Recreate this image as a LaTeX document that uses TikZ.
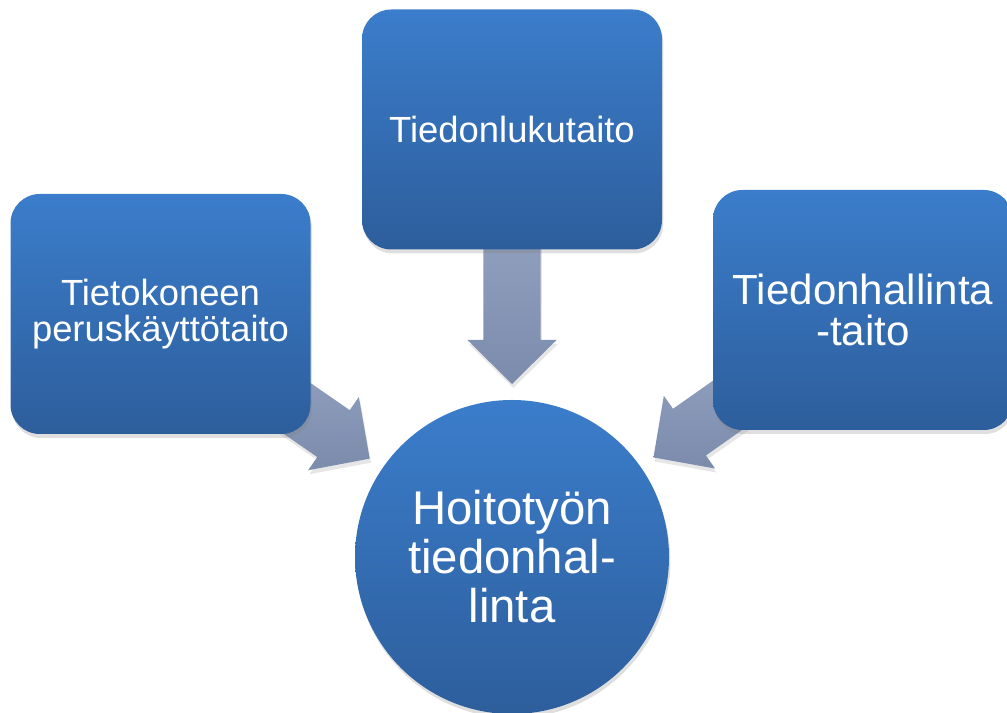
\documentclass[tikz,border=0pt]{standalone}
\usepackage{fontspec}
\setmainfont{Liberation Sans}
\usetikzlibrary{calc,shadows,backgrounds}
\definecolor{boxtop}{HTML}{3B7DCB}
\definecolor{boxbot}{HTML}{2D5E9C}
\definecolor{arrtop}{HTML}{A0AECB}
\definecolor{arrbot}{HTML}{7B8BAC}
\tikzset{box/.style={rounded corners=22pt,top color=boxtop,bottom color=boxbot,
    minimum width=225pt,minimum height=180pt,inner sep=0pt,text=white,align=center,
    drop shadow={shadow xshift=1pt,shadow yshift=-3pt,opacity=.25}},
  hub/.style={circle,top color=boxtop,bottom color=boxbot,minimum size=235.5pt,
    inner sep=0pt,text=white,align=center,
    drop shadow={shadow xshift=1pt,shadow yshift=-3pt,opacity=.25}},
  arr/.style={top color=arrtop,bottom color=arrbot,
    drop shadow={shadow xshift=1pt,shadow yshift=-3pt,opacity=.2}}}

\begin{document}
\begin{tikzpicture}[x=.75pt,y=.75pt]
\useasboundingbox (0,0) rectangle (1007,713);
\node[box,font=\fontsize{27.3}{27}\selectfont] (kone) at (160.5,399) {Tietokoneen\\peruskäyttötaito};
\node[box,font=\fontsize{27.3}{27}\selectfont] (luku) at (512,583.5) {Tiedonlukutaito};
\node[box,font=\fontsize{31.6}{31}\selectfont] (hall) at (863,403) {Tiedonhallinta\\-taito};
\node[hub,font=\fontsize{35.5}{36.8}\selectfont] (hoito) at (512,156) {Hoitotyön\\tiedonhal-\\linta};
\begin{scope}[on background layer]
\foreach \src in {kone,luku,hall}{
  \coordinate (tip) at ($(hoito)!129.75pt!(\src)$);
  \coordinate (hb) at ($(hoito)!162.75pt!(\src)$);
  \path[arr] ($(\src)!21.4pt!90:(hoito)$) -- ($(hb)!21.4pt!90:(hoito)$)
    -- ($(hb)!33.4pt!90:(hoito)$) -- (tip) -- ($(hb)!33.4pt!-90:(hoito)$)
    -- ($(hb)!21.4pt!-90:(hoito)$) -- ($(\src)!21.4pt!-90:(hoito)$) -- cycle;
}
\end{scope}
\end{tikzpicture}
\end{document}
